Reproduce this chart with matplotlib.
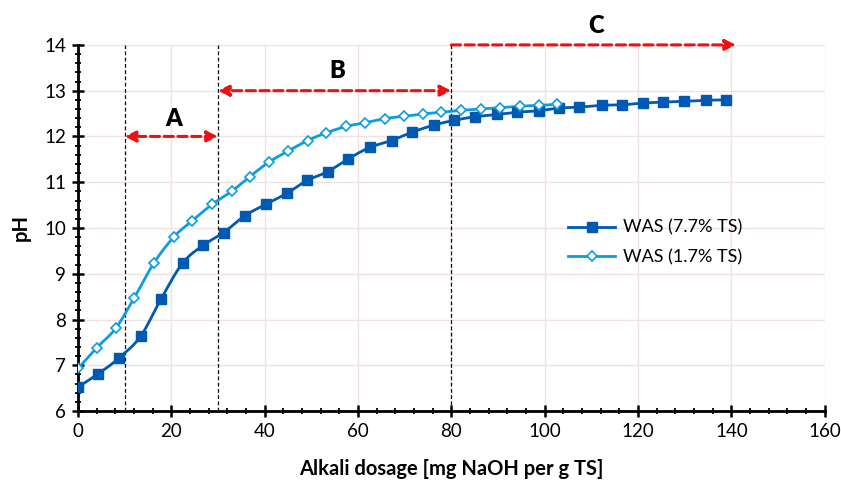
import numpy as np
import matplotlib
matplotlib.use("Agg")
import matplotlib.pyplot as plt
from matplotlib.ticker import MultipleLocator

plt.rcParams['font.family'] = ['Lato', 'DejaVu Sans']

# WAS (7.7% TS)
x_77 = [0, 4.3, 8.7, 13.4, 17.8, 22.4, 26.8, 31.2, 35.8, 40.3, 44.8, 49.1, 53.5, 57.9,
        62.5, 67.2, 71.5, 76.3, 80.5, 85.0, 89.8, 94.1, 98.7, 103.0, 107.3, 112.2,
        116.5, 121.1, 125.4, 129.9, 134.5, 138.8]
ph_77 = [6.52, 6.81, 7.15, 7.63, 8.45, 9.23, 9.62, 9.90, 10.27, 10.52, 10.76, 11.04,
         11.23, 11.51, 11.76, 11.91, 12.09, 12.25, 12.35, 12.43, 12.48, 12.53, 12.56,
         12.62, 12.64, 12.68, 12.69, 12.73, 12.75, 12.77, 12.79, 12.80]

# WAS (1.7% TS)
x_17 = [0, 4.0, 8.1, 12.1, 16.3, 20.6, 24.5, 28.8, 32.9, 36.8, 40.9, 45.0, 49.2, 53.2,
        57.5, 61.5, 65.7, 69.8, 73.9, 77.8, 82.1, 86.4, 90.5, 94.6, 98.8, 102.7]
ph_17 = [6.93, 7.38, 7.81, 8.48, 9.24, 9.81, 10.16, 10.52, 10.80, 11.12, 11.44, 11.68,
         11.91, 12.08, 12.22, 12.30, 12.39, 12.44, 12.49, 12.53, 12.57, 12.60, 12.63,
         12.66, 12.68, 12.70]

labels = ['WAS (7.7% TS)', 'WAS (1.7% TS)']
zones = ['A', 'B', 'C']
bounds = [10, 30, 80]

c_dark = '#0059b3'
c_light = '#0e9ce0'


def smooth(x, y, n=20):
    # catmull-rom style smoothing like Excel's "smoothed line"
    p = np.column_stack([x, y]).astype(float)
    p = np.vstack([p[0], p, p[-1]])
    out = []
    t = np.linspace(0, 1, n)[:, None]
    for i in range(1, len(p) - 2):
        p0, p1, p2, p3 = p[i - 1], p[i], p[i + 1], p[i + 2]
        c1 = p1 + (p2 - p0) / 6
        c2 = p2 - (p3 - p1) / 6
        seg = ((1 - t) ** 3) * p1 + 3 * ((1 - t) ** 2) * t * c1 + 3 * (1 - t) * t ** 2 * c2 + t ** 3 * p2
        out.append(seg)
    s = np.vstack(out)
    return s[:, 0], s[:, 1]


fig = plt.figure(figsize=(8.41, 4.83), dpi=100)
ax = fig.add_axes([0.0927, 0.149, 0.888, 0.758])

ax.set_xlim(0, 160)
ax.set_ylim(6, 14)
ax.xaxis.set_major_locator(MultipleLocator(20))
ax.xaxis.set_minor_locator(MultipleLocator(4))
ax.yaxis.set_major_locator(MultipleLocator(1))
ax.yaxis.set_minor_locator(MultipleLocator(0.2))
ax.grid(True, which='major', color='#f0e2e2', lw=1.0)
ax.set_axisbelow(True)

for s in ['top', 'right']:
    ax.spines[s].set_visible(False)
for s in ['left', 'bottom']:
    ax.spines[s].set_linewidth(2)
ax.tick_params(which='major', direction='inout', length=9, width=1.8, labelsize=13.5,
               colors='black', pad=4)
ax.tick_params(which='minor', direction='inout', length=5, width=1.3)

# zone boundaries
for b in bounds:
    ax.plot([b, b], [6, 14], color='black', lw=0.9, ls=(0, (3, 2)), zorder=1)

sx, sy = smooth(x_77, ph_77)
ax.plot(sx, sy, color=c_dark, lw=2, zorder=3)
ax.plot(x_77, ph_77, ls='none', marker='s', ms=7, color=c_dark, zorder=4)
ax.plot([], [], color=c_dark, lw=2, marker='s', ms=7, label=labels[0])

sx, sy = smooth(x_17, ph_17)
ax.plot(sx, sy, color=c_light, lw=2, zorder=3)
ax.plot(x_17, ph_17, ls='none', marker='D', ms=5.5, mfc='white', mec=c_light, mew=1.2, zorder=4)
ax.plot([], [], color=c_light, lw=2, marker='D', ms=5.5, mfc='white', mec=c_light, mew=1.2,
        label=labels[1])

# arrows
arr = dict(color='#ee1111', lw=2.2, ls=(0, (3, 1.5)), shrinkA=0, shrinkB=0,
           mutation_scale=16)
ax.annotate('', xy=(bounds[0], 12), xytext=(bounds[1], 12),
            arrowprops=dict(arrowstyle='<|-|>', **arr), annotation_clip=False)
ax.annotate('', xy=(bounds[1], 13), xytext=(bounds[2], 13),
            arrowprops=dict(arrowstyle='<|-|>', **arr), annotation_clip=False)
ax.annotate('', xy=(141, 14), xytext=(bounds[2], 14),
            arrowprops=dict(arrowstyle='-|>', **arr), annotation_clip=False)

ax.text(20.5, 12.38, zones[0], ha='center', va='center', fontsize=17, fontweight='heavy')
ax.text(55.5, 13.43, zones[1], ha='center', va='center', fontsize=17, fontweight='heavy')
ax.text(111, 14.41, zones[2], ha='center', va='center', fontsize=17, fontweight='heavy',
        clip_on=False)

ax.set_xlabel('Alkali dosage [mg NaOH per g TS]', fontsize=14.5, fontweight='bold', labelpad=14)
ax.set_ylabel('pH', fontsize=14.5, fontweight='bold', labelpad=10)

ax.legend(loc='center left', bbox_to_anchor=(0.635, 0.46), frameon=False, fontsize=13,
          handlelength=2.6, labelspacing=0.75, handletextpad=0.4)

fig.savefig('out.png', dpi=100)
